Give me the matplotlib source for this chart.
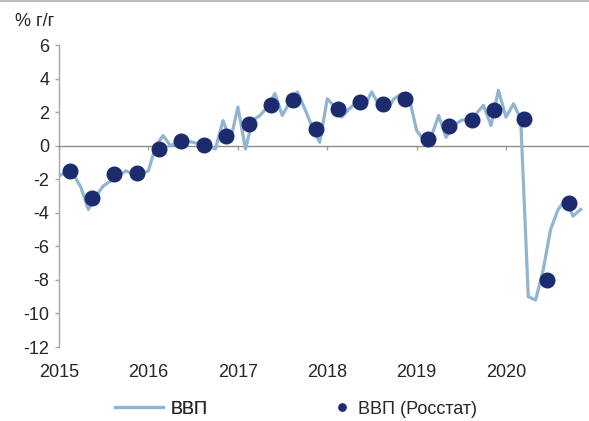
import numpy as np
import pandas as pd
import matplotlib
matplotlib.use("Agg")
import matplotlib.pyplot as plt
import matplotlib.dates as mdates
from matplotlib.lines import Line2D

plt.rcParams['font.family'] = ['Liberation Sans', 'DejaVu Sans']

# ---- data ----
line_start = '2015-01-01'
gdp_monthly = [
    -1.8, -1.6, -1.7, -2.5, -3.8, -3.0, -2.4, -2.1, -1.8, -1.5, -1.7, -1.7,   # 2015
    -1.5, 0.0, 0.6, 0.0, 0.2, 0.3, 0.2, 0.1, 0.0, -0.2, 1.5, 0.3,             # 2016
    2.3, -0.2, 1.5, 1.8, 2.3, 3.1, 1.8, 2.6, 3.2, 2.2, 1.1, 0.2,              # 2017
    2.8, 2.3, 1.7, 2.2, 2.6, 2.3, 3.2, 2.4, 2.1, 2.8, 3.1, 2.9,               # 2018
    0.9, 0.3, 0.5, 1.8, 0.5, 1.2, 1.5, 1.6, 1.9, 2.4, 1.2, 3.3,               # 2019
    1.7, 2.5, 1.6, -9.0, -9.2, -7.4, -5.0, -3.8, -3.2, -4.2, -3.8,            # 2020
]
rosstat_dates = [
    '2015-02-15', '2015-05-15', '2015-08-15', '2015-11-15',
    '2016-02-15', '2016-05-15', '2016-08-15', '2016-11-15',
    '2017-02-15', '2017-05-15', '2017-08-15', '2017-11-15',
    '2018-02-15', '2018-05-15', '2018-08-15', '2018-11-15',
    '2019-02-15', '2019-05-15', '2019-08-15', '2019-11-15',
    '2020-03-15', '2020-06-15', '2020-09-15',
]
rosstat_values = [
    -1.5, -3.1, -1.7, -1.6,
    -0.2, 0.3, 0.05, 0.6,
    1.3, 2.4, 2.7, 1.0,
    2.2, 2.6, 2.5, 2.8,
    0.4, 1.15, 1.55, 2.1,
    1.6, -8.0, -3.4,
]
year_labels = ['2015', '2016', '2017', '2018', '2019', '2020']
y_ticks = [-12, -10, -8, -6, -4, -2, 0, 2, 4, 6]
y_unit = '% г/г'
legend_labels = ['ВВП', 'ВВП (Росстат)']

# ---- styling ----
W, H, DPI = 589, 421, 100
FS = 13
line_color = '#8FB5D3'
dot_color = '#1C2B6E'
axis_gray = '#A6A6A6'
zero_gray = '#8C8C8C'
text_color = '#262626'

fig = plt.figure(figsize=(W / DPI, H / DPI), dpi=DPI)
left_px, right_px, top_px, bottom_px = 59, 588, 45, 347
ax = fig.add_axes([left_px / W, 1 - bottom_px / H,
                   (right_px - left_px) / W, (bottom_px - top_px) / H])

m_dates = pd.date_range(line_start, periods=len(gdp_monthly), freq='MS')
x_line = mdates.date2num(m_dates.to_pydatetime())
x_dots = mdates.date2num(pd.to_datetime(rosstat_dates).to_pydatetime())
year_pos = mdates.date2num(pd.to_datetime([y + '-01-01' for y in year_labels]).to_pydatetime())

ln, = ax.plot(x_line, gdp_monthly, color=line_color, lw=2.3, solid_joinstyle='round', zorder=3)
dots, = ax.plot(x_dots, rosstat_values, 'o', color=dot_color, ms=10.5, ls='none', zorder=4)

x0 = mdates.date2num(pd.Timestamp('2015-01-01').to_pydatetime())
x1 = mdates.date2num(pd.Timestamp('2020-12-01').to_pydatetime())
ax.set_xlim(x0, x1)
ax.set_ylim(-12, 6)

# spines
for s in ['top', 'right']:
    ax.spines[s].set_visible(False)
ax.spines['left'].set_color(axis_gray)
ax.spines['left'].set_linewidth(1.0)
ax.spines['bottom'].set_position(('data', 0))
ax.spines['bottom'].set_color(zero_gray)
ax.spines['bottom'].set_linewidth(1.0)

ax.set_yticks(y_ticks)
ax.set_yticklabels([str(v) for v in y_ticks])
ax.tick_params(axis='y', direction='out', length=3, width=1, color=axis_gray,
               labelsize=FS, labelcolor=text_color, pad=4)
ax.set_xticks(year_pos)
ax.tick_params(axis='x', direction='out', length=3, width=1, color=axis_gray,
               labelbottom=False)

# year labels at bottom via secondary axis
sec = ax.secondary_xaxis(0)
sec.set_xticks(year_pos)
sec.set_xticklabels(year_labels)
sec.spines['bottom'].set_visible(False)
sec.tick_params(axis='x', length=0, labelsize=FS, labelcolor=text_color, pad=12)

# unit label
fig.text(15 / W, 1 - 22 / H, y_unit, fontsize=FS, color=text_color, ha='left', va='center')

# top border line
fig.add_artist(Line2D([0, 1], [1 - 1.0 / H, 1 - 1.0 / H], color='#B0B0B0', lw=1.2,
                      transform=fig.transFigure))

# legends
leg1 = fig.legend([ln], [legend_labels[0]], loc='center left',
                  bbox_to_anchor=(115 / W, 1 - 409 / H), frameon=False,
                  fontsize=FS, handlelength=2.66, handletextpad=0.39,
                  borderpad=0, borderaxespad=0, labelcolor=text_color)
leg2 = fig.legend([dots], [legend_labels[1]], loc='center left',
                  bbox_to_anchor=(333 / W, 1 - 409 / H), frameon=False,
                  fontsize=FS, handlelength=1.0, handletextpad=0.39,
                  borderpad=0, borderaxespad=0, markerscale=0.5, labelcolor=text_color)
fig.add_artist(leg1)

fig.savefig('out.png', dpi=DPI)
